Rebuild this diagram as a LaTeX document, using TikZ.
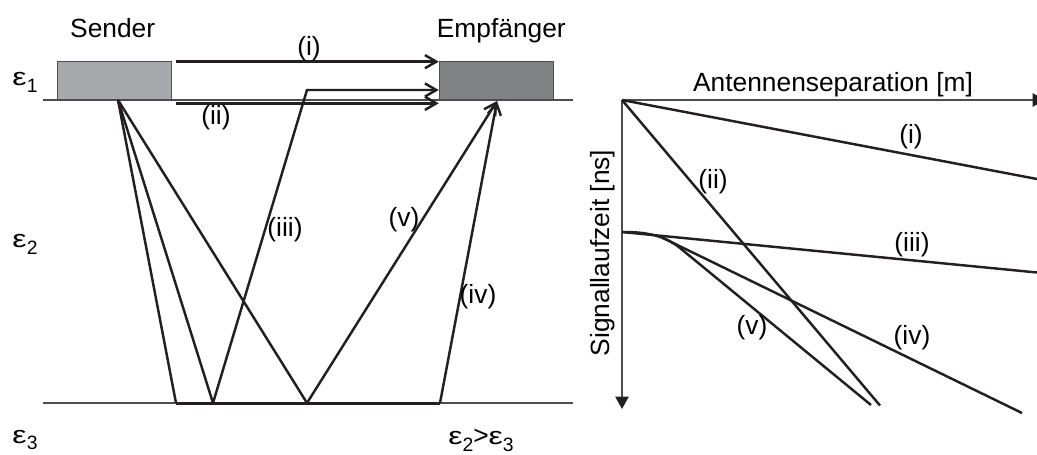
\documentclass[tikz,border=0pt]{standalone}
\usepackage{fontspec}
\setmainfont{Liberation Sans}
\usepackage{graphicx}
\usetikzlibrary{arrows.meta,calc,positioning}
\definecolor{raycol}{HTML}{231F20}
\definecolor{sendgray}{HTML}{A7A9AC}
\definecolor{recvgray}{HTML}{808285}
\definecolor{axisgray}{HTML}{4D4D4F}
\newcommand{\epsi}[1]{{\fontsize{14}{16}\selectfont\scalebox{1.3}[1]{ε}}\raisebox{-3.9pt}{\fontsize{11}{13}\selectfont #1}}
\tikzset {
  >={Straight Barb[length=6.5pt,width=7.5pt]},
  every node/.style={font=\fontsize{15}{18}\selectfont,inner sep=0pt},
  ray/.style={raycol,line width=1.4pt},
  bound/.style={axisgray,line width=0.75pt},
  axis/.style={axisgray,line width=1pt,-{Triangle[length=7pt,width=7.5pt,color=raycol]}},
  antenna/.style={draw=axisgray,line width=0.6pt,minimum width=2.28cm,minimum height=0.752cm},
}

\begin{document}
\begin{tikzpicture}[x=0.02cm,y=-0.02cm]
  \useasboundingbox (0,0) rectangle (1037,454);
  \draw[bound] (43,100) -- (573,100);
  \draw[bound] (43,403) -- (573,403);
  \node[antenna,fill=sendgray] (sender) at (114.7,80.5) {};
  \node[antenna,fill=recvgray] (receiver) at (496.3,80.5) {};
  \node[above=0.47cm of sender.north,anchor=base,xshift=-0.04cm] (sendlbl) {Sender};
  \node[above=0.47cm of receiver.north,anchor=base,xshift=0.1cm] (recvlbl) {Empfänger};
  \node (eps1) at (25,82) {\epsi{1}};
  \node (eps2) at (25,244) {\epsi{2}};
  \node (eps3) at (25,440) {\epsi{3}};
  \node (epsrel) at (481,440) {\epsi{2}>\epsi{3}};
  \coordinate (S) at (118,100);
  \coordinate (R) at (497,101);
  \coordinate (b1) at (176,403);
  \coordinate (b2) at (213,403);
  \coordinate (b3) at (307,403);
  \coordinate (b4) at (440,403);
  \coordinate (k3) at (307,90);
  \draw[ray,->] ($(sender.north east)+(3.5,0.5)$) -- ($(receiver.north west)+(0,0.5)$);
  \draw[ray,->] ($(sender.south east)+(3.5,3.5)$) -- ($(receiver.south west)+(0,3.5)$);
  \draw[ray] (S) -- (b1);
  \draw[ray] (S) -- (b2);
  \draw[ray] (S) -- (b3);
  \draw[ray,line width=1.7pt] (b1) -- (b4);
  \draw[ray,->] (b2) -- (k3) -- (k3 -| receiver.west);
  \draw[ray,->] (b3) -- (R);
  \draw[ray,->] (b4) -- (R);
  \node (li) at (309,49) {(i)};
  \node (lii) at (216,118) {(ii)};
  \node (liii) at (285,230) {(iii)};
  \node (lv) at (404,220) {(v)};
  \node (liv) at (478,297) {(iv)};
  \coordinate (O) at (622,100);
  \coordinate (xend) at (1045,100);
  \coordinate (yend) at (622,409);
  \draw[axis] (O) -- (xend);
  \draw[axis] (O) -- (yend);
  \node (xlbl) at (833,85) {Antennenseparation [m]};
  \node[rotate=90] (ylbl) at (603,253) {Signallaufzeit [ns]};
  \coordinate (t0) at (622,232);
  \draw[ray] (O) -- (1037,179);
  \draw[ray] (O) -- (880,405.5);
  \draw[ray] (t0) -- (1037,272.5);
  \draw[ray] (t0) .. controls (640,232) and (662,233.2) .. (680,248) -- (871,405);
  \draw[ray] (663,238) -- (1022,413);
  \node (ri) at (911,137) {(i)};
  \node (rii) at (713,182) {(ii)};
  \node (riii) at (912,245) {(iii)};
  \node (rv) at (752,328) {(v)};
  \node (riv) at (912,338) {(iv)};
\end{tikzpicture}
\end{document}
